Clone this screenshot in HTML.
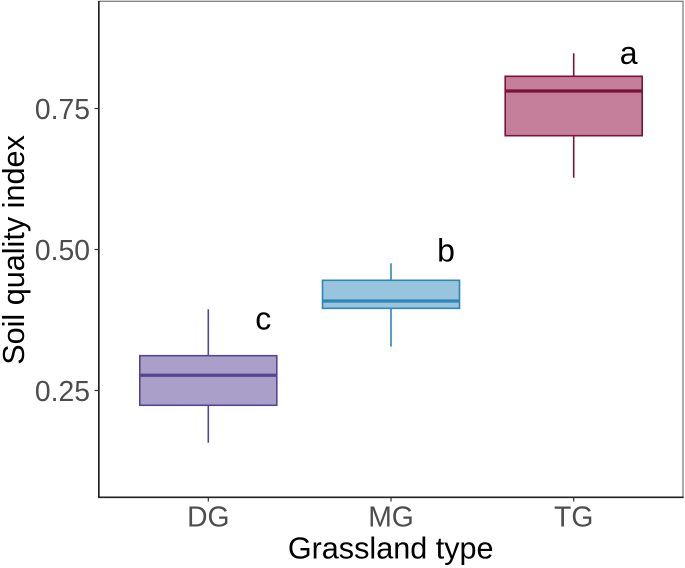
<!DOCTYPE html>
<html>
<head>
<meta charset="utf-8">
<style>
html,body{margin:0;padding:0;background:#fff;}
svg{display:block;font-family:"Liberation Sans",Arial,sans-serif;}
</style>
</head>
<body>
<svg id="chart" width="685" height="568" viewBox="0 0 685 568" xmlns="http://www.w3.org/2000/svg"></svg>
<script>
const categories = ['DG', 'MG', 'TG'];
const whiskerHigh = [0.394, 0.4755, 0.8479];
const q3Values = [0.3117, 0.4454, 0.8071];
const medians = [0.277, 0.4087, 0.781];
const q1Values = [0.2238, 0.3957, 0.7018];
const whiskerLow = [0.1574, 0.3277, 0.6273];
const letters = ['c', 'b', 'a'];
const letterValues = [0.3762, 0.4961, 0.8466];
const yTicks = [0.25, 0.50, 0.75];
const yTickLabels = ['0.25', '0.50', '0.75'];
const fills = ['#a99fc9', '#98c5dd', '#c67f9b'];
const strokes = ['#574590', '#2f86b5', '#7a1339'];

const svg = document.getElementById('chart');
const NS = 'http://www.w3.org/2000/svg';
const yAxis = v => 390.5 - (v - 0.25) * 564;
const xAxis = i => 208.3 + i * 182.7;
const boxHalf = 68.5;

function add(tag, attrs, parent) {
  const el = document.createElementNS(NS, tag);
  for (const k in attrs) el.setAttribute(k, attrs[k]);
  (parent || svg).appendChild(el);
  return el;
}

const frame = add('rect', {x: 99, y: 1.3, width: 584, height: 496, fill: '#fff', stroke: '#7f7f7f', 'stroke-width': 1.3});



categories.forEach((c, i) => {
  const g = add('g', {});
  
  
  const x = xAxis(i);
  const top = add('line', {x1: x, x2: x, y1: yAxis(whiskerHigh[i]), y2: yAxis(q3Values[i]), stroke: strokes[i], 'stroke-width': 1.6}, g);
  
  
  const bottom = add('line', {x1: x, x2: x, y1: yAxis(q1Values[i]), y2: yAxis(whiskerLow[i]), stroke: strokes[i], 'stroke-width': 1.6}, g);
  
  
  const box = add('rect', {x: x - boxHalf, y: yAxis(q3Values[i]), width: boxHalf * 2, height: yAxis(q1Values[i]) - yAxis(q3Values[i]), fill: fills[i], stroke: strokes[i], 'stroke-width': 1.6}, g);
  
  
  const med = add('line', {x1: x - boxHalf, x2: x + boxHalf, y1: yAxis(medians[i]), y2: yAxis(medians[i]), stroke: strokes[i], 'stroke-width': 3.2}, g);
  
  

  const lt = add('text', {x: x + 55, y: yAxis(letterValues[i]) + 10, 'font-size': 32, 'text-anchor': 'middle', fill: '#000'});
  lt.textContent = letters[i];
  
  

  const tick = add('line', {x1: x, x2: x, y1: 497, y2: 501.5, stroke: '#333', 'stroke-width': 1.2});
  
  
  const lab = add('text', {x: x, y: 526.7, 'font-size': 28.3, 'text-anchor': 'middle', fill: '#4d4d4d'});
  lab.textContent = c;
  
  
});

yTicks.forEach((v, i) => {
  const y = yAxis(v);
  const tick = add('line', {x1: 94.5, x2: 99, y1: y, y2: y, stroke: '#333', 'stroke-width': 1.2});
  
  
  const lab = add('text', {x: 90, y: y + 10.5, 'font-size': 28.3, 'text-anchor': 'end', fill: '#4d4d4d'});
  lab.textContent = yTickLabels[i];
  
  
});

const leftAxis = add('line', {x1: 98.8, x2: 98.8, y1: 1, y2: 498, stroke: '#222', 'stroke-width': 1.6});


const bottomAxis = add('line', {x1: 98, x2: 683.6, y1: 497.3, y2: 497.3, stroke: '#222', 'stroke-width': 1.6});



const xTitle = add('text', {x: 390.7, y: 558.3, 'font-size': 30.6, 'text-anchor': 'middle', fill: '#000'});
xTitle.textContent = 'Grassland type';


const yTitle = add('text', {x: 0, y: 0, 'font-size': 30.6, 'text-anchor': 'middle', fill: '#000', transform: 'translate(24,250) rotate(-90)'});
yTitle.textContent = 'Soil quality index';


</script>
</body>
</html>
